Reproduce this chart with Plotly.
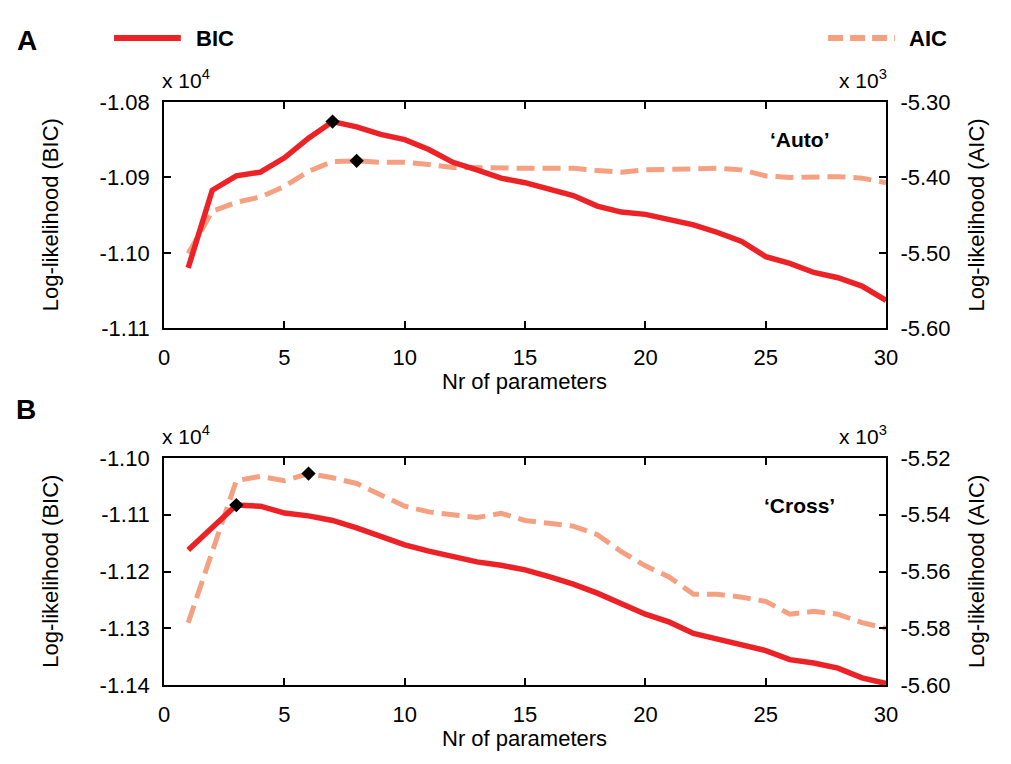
import plotly.graph_objects as go

# Number of model parameters
n_params = list(range(1, 31))

# Panel A ('Auto'): log-likelihoods
bic_auto = [-11020, -10917, -10898, -10893, -10874, -10848, -10826, -10833, -10843, -10850,
            -10863, -10880, -10890, -10901, -10907, -10916, -10924, -10938, -10946, -10949,
            -10956, -10963, -10973, -10985, -11005, -11014, -11026, -11033, -11044, -11063]
aic_auto = [-5501, -5445, -5433, -5426, -5412, -5392, -5379, -5378, -5380, -5380,
            -5383, -5387, -5387, -5388, -5388, -5388, -5388, -5391, -5393, -5390,
            -5389, -5388, -5388, -5390, -5398, -5400, -5399, -5399, -5401, -5407]

# Panel B ('Cross'): log-likelihoods
bic_cross = [-11162, -11123, -11083, -11085, -11097, -11102, -11110, -11123, -11139, -11153,
             -11164, -11173, -11183, -11189, -11197, -11209, -11222, -11238, -11256, -11275,
             -11289, -11309, -11319, -11330, -11339, -11355, -11361, -11370, -11387, -11397]
aic_cross = [-5578, -5553, -5528, -5526.5, -5528, -5525.5, -5527, -5529, -5533, -5537,
             -5539, -5540, -5541, -5539.5, -5542, -5543, -5544, -5547, -5553, -5558,
             -5562, -5568, -5568, -5569, -5570.5, -5575, -5574, -5575, -5578, -5580]

# Axis ticks
x_ticks = [0, 5, 10, 15, 20, 25, 30]
bic_auto_ticks = [-11100, -11000, -10900, -10800]
aic_auto_ticks = [-5600, -5500, -5400, -5300]
bic_cross_ticks = [-11400, -11300, -11200, -11100, -11000]
aic_cross_ticks = [-5600, -5580, -5560, -5540, -5520]

BIC_COLOR = "#EC2227"
AIC_COLOR = "#F5A080"
FONT = "Arial, Liberation Sans, sans-serif"
W, H = 1011, 764


def px(x):
    return x / W


def py(y):
    return 1 - y / H


def argmax(vals):
    return max(range(len(vals)), key=lambda i: vals[i])


fig = go.Figure()

panels = [
    # (bic, aic, bic axis, aic axis, x axis)
    (bic_auto, aic_auto, "y2", "y", "x"),
    (bic_cross, aic_cross, "y4", "y3", "x2"),
]

for bic, aic, ybic, yaic, xa in panels:
    fig.add_trace(go.Scatter(
        x=n_params, y=aic, xaxis=xa, yaxis=yaic, mode="lines",
        line=dict(color=AIC_COLOR, width=5, dash="18px,8px"), showlegend=False))
    ia = argmax(aic)
    fig.add_trace(go.Scatter(
        x=[n_params[ia]], y=[aic[ia]], xaxis=xa, yaxis=yaic, mode="markers",
        marker=dict(symbol="diamond", color="black", size=11), showlegend=False))
    fig.add_trace(go.Scatter(
        x=n_params, y=bic, xaxis=xa, yaxis=ybic, mode="lines",
        line=dict(color=BIC_COLOR, width=5.5), showlegend=False))
    ib = argmax(bic)
    fig.add_trace(go.Scatter(
        x=[n_params[ib]], y=[bic[ib]], xaxis=xa, yaxis=ybic, mode="markers",
        marker=dict(symbol="diamond", color="black", size=11), showlegend=False))

x_dom = [px(161), px(896)]
top_dom = [py(327), py(93)]
bot_dom = [py(696), py(461)]

axis_common = dict(
    showline=True, linecolor="black", linewidth=2, ticks="inside", ticklen=7,
    tickwidth=1.5, tickcolor="black", showgrid=False, zeroline=False,
    ticklabelstandoff=8,
    tickfont=dict(family=FONT, size=22, color="black"),
)

fig.update_layout(
    width=W, height=H,
    margin=dict(l=0, r=0, t=0, b=0),
    paper_bgcolor="white", plot_bgcolor="white",
    font=dict(family=FONT, color="black"),
    xaxis=dict(domain=x_dom, anchor="y", range=[0, 30], tickvals=x_ticks,
               mirror="ticks", **axis_common),
    xaxis2=dict(domain=x_dom, anchor="y3", range=[0, 30], tickvals=x_ticks,
                mirror="ticks", **axis_common),
    yaxis=dict(domain=top_dom, anchor="x", side="right",
               range=[aic_auto_ticks[0], aic_auto_ticks[-1]], tickvals=aic_auto_ticks,
               ticktext=["%.2f" % (v / 1000) for v in aic_auto_ticks], **axis_common),
    yaxis2=dict(overlaying="y", anchor="x", side="left",
                range=[bic_auto_ticks[0], bic_auto_ticks[-1]], tickvals=bic_auto_ticks,
                ticktext=["%.2f" % (v / 10000) for v in bic_auto_ticks], **axis_common),
    yaxis3=dict(domain=bot_dom, anchor="x2", side="right",
                range=[aic_cross_ticks[0], aic_cross_ticks[-1]], tickvals=aic_cross_ticks,
                ticktext=["%.2f" % (v / 1000) for v in aic_cross_ticks], **axis_common),
    yaxis4=dict(overlaying="y3", anchor="x2", side="left",
                range=[bic_cross_ticks[0], bic_cross_ticks[-1]], tickvals=bic_cross_ticks,
                ticktext=["%.2f" % (v / 10000) for v in bic_cross_ticks], **axis_common),
)

annotations = []


def text(x, y, s, size=22, bold=False, angle=0, xanchor="center"):
    annotations.append(dict(
        x=px(x), y=py(y), xref="paper", yref="paper", text=("<b>%s</b>" % s) if bold else s,
        showarrow=False, textangle=angle, xanchor=xanchor, yanchor="middle",
        font=dict(family=FONT, size=size, color="black")))


# Panel letters
text(21, 29, "A", size=28, bold=True)
text(20, 411, "B", size=28, bold=True)

for top, bottom in [(93, 327), (461, 696)]:
    mid = (top + bottom) / 2
    text(45, mid, "Log-likelihood (BIC)", angle=-90)
    text(988, mid, "Log-likelihood (AIC)", angle=-90)
    text(528, bottom + 55, "Nr of parameters")
    text(157, top - 24, "x 10<sup>4</sup>", size=21, xanchor="left")
    text(899, top - 24, "x 10<sup>3</sup>", size=21, xanchor="right")

text(808, 132, "‘Auto’", size=21, bold=True)
text(808, 510, "‘Cross’", size=21, bold=True)

# Legend entries
text(191, 27, "BIC", size=22, bold=True, xanchor="left")
text(917, 27, "AIC", size=22, bold=True, xanchor="left")

fig.update_layout(
    annotations=annotations,
    shapes=[
        dict(type="line", xref="paper", yref="paper", x0=px(110), x1=px(178),
             y0=py(27), y1=py(27), line=dict(color=BIC_COLOR, width=6)),
        dict(type="line", xref="paper", yref="paper", x0=px(837), x1=px(905),
             y0=py(27), y1=py(27), line=dict(color=AIC_COLOR, width=6, dash="15px,7px")),
    ],
)

fig.write_html("out.html")
